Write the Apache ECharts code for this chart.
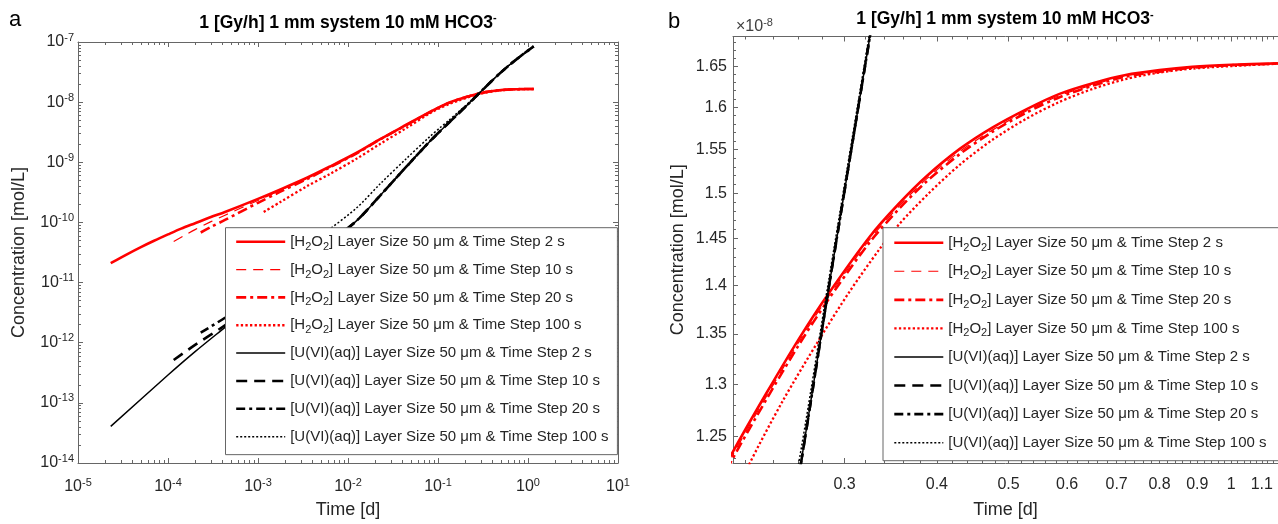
<!DOCTYPE html>
<html><head><meta charset="utf-8">
<script src="https://cdn.jsdelivr.net/npm/echarts@6/dist/echarts.min.js"></script>
<style>html,body{margin:0;padding:0;background:#fff;}#c{width:1278px;height:524px;}</style>
</head><body><div id="c"></div>
<script>
// ---------------- data (time in days, concentration in mol/L) ----------------
const tH2O2_2s = [2.31e-5, 3.5e-5, 5e-5, 7e-5, 1e-4, 1.4e-4, 2e-4, 3e-4, 4.3e-4, 1e-3, 1.75e-3, 3.5e-3, 6.3e-3, 0.0125, 0.0225, 0.045, 0.0815, 0.105, 0.13, 0.17, 0.212, 0.2351, 0.2608, 0.2846, 0.3245, 0.355, 0.387, 0.43, 0.476, 0.53, 0.586, 0.65, 0.72, 0.8, 0.886, 1.0, 1.157];
const cH2O2_2s = [2.10e-11, 2.95e-11, 3.89e-11, 4.96e-11, 6.32e-11, 7.89e-11, 9.71e-11, 1.228e-10, 1.49e-10, 2.46e-10, 3.5e-10, 5.53e-10, 8.5e-10, 1.44e-9, 2.4e-9, 4.25e-9, 6.9e-9, 8.36e-9, 9.7e-9, 1.12e-8, 1.236e-8, 1.291e-8, 1.346e-8, 1.390e-8, 1.452e-8, 1.488e-8, 1.519e-8, 1.551e-8, 1.576e-8, 1.598e-8, 1.616e-8, 1.629e-8, 1.639e-8, 1.645e-8, 1.649e-8, 1.6516e-8, 1.6535e-8];

const tH2O2_10s = [1.157e-4, 1.5e-4, 2e-4, 3e-4, 4.3e-4, 1e-3, 1.75e-3, 3.5e-3, 6.3e-3, 0.0125, 0.0225, 0.045, 0.0815, 0.105, 0.13, 0.17, 0.212, 0.2351, 0.2608, 0.2846, 0.3245, 0.355, 0.387, 0.43, 0.476, 0.53, 0.586, 0.65, 0.72, 0.8, 0.886, 1.0, 1.157];
const cH2O2_10s = [4.8e-11, 6.0e-11, 7.6e-11, 1.03e-10, 1.32e-10, 2.32e-10, 3.40e-10, 5.44e-10, 8.42e-10, 1.43e-9, 2.39e-9, 4.23e-9, 6.87e-9, 8.33e-9, 9.67e-9, 1.117e-8, 1.233e-8, 1.288e-8, 1.343e-8, 1.387e-8, 1.449e-8, 1.485e-8, 1.516e-8, 1.548e-8, 1.573e-8, 1.596e-8, 1.614e-8, 1.627e-8, 1.638e-8, 1.644e-8, 1.648e-8, 1.651e-8, 1.653e-8];

const tH2O2_20s = [2.31e-4, 3e-4, 4.3e-4, 1e-3, 1.75e-3, 3.5e-3, 6.3e-3, 0.0125, 0.0225, 0.045, 0.0815, 0.105, 0.13, 0.17, 0.212, 0.2351, 0.2608, 0.2846, 0.3245, 0.355, 0.387, 0.43, 0.476, 0.53, 0.586, 0.65, 0.72, 0.8, 0.886, 1.0, 1.157];
const cH2O2_20s = [6.8e-11, 8.4e-11, 1.10e-10, 2.12e-10, 3.22e-10, 5.27e-10, 8.25e-10, 1.41e-9, 2.37e-9, 4.2e-9, 6.84e-9, 8.3e-9, 9.63e-9, 1.113e-8, 1.230e-8, 1.285e-8, 1.340e-8, 1.384e-8, 1.446e-8, 1.482e-8, 1.513e-8, 1.545e-8, 1.571e-8, 1.594e-8, 1.612e-8, 1.626e-8, 1.637e-8, 1.643e-8, 1.648e-8, 1.651e-8, 1.653e-8];

const tH2O2_100s = [1.157e-3, 1.75e-3, 3.5e-3, 6.3e-3, 0.0125, 0.0225, 0.045, 0.0815, 0.105, 0.13, 0.17, 0.2214, 0.2476, 0.2787, 0.3045, 0.3342, 0.356, 0.39, 0.429, 0.475, 0.528, 0.585, 0.6495, 0.72, 0.799, 0.89, 1.0, 1.157];
const cH2O2_100s = [1.49e-10, 2.16e-10, 4.0e-10, 6.4e-10, 1.15e-9, 2.0e-9, 3.75e-9, 6.55e-9, 7.95e-9, 9.2e-9, 1.065e-8, 1.220e-8, 1.284e-8, 1.347e-8, 1.393e-8, 1.438e-8, 1.466e-8, 1.500e-8, 1.532e-8, 1.561e-8, 1.586e-8, 1.606e-8, 1.622e-8, 1.634e-8, 1.642e-8, 1.647e-8, 1.650e-8, 1.653e-8];

const tU_2s = [2.31e-5, 1e-4, 2e-4, 4.3e-4, 1e-3, 1.75e-3, 3.5e-3, 6.3e-3, 0.0125, 0.0225, 0.045, 0.0815, 0.13, 0.17, 0.212, 0.2351, 0.2619, 0.2846, 0.3245, 0.387, 0.476, 0.586, 0.72, 0.886, 1.0, 1.157];
const cU_2s = [4.07e-14, 2.9e-13, 7.1e-13, 1.8e-12, 5.0e-12, 9.8e-12, 2.25e-11, 4.69e-11, 1.07e-10, 2.74e-10, 8.6e-10, 2.24e-9, 4.45e-9, 6.55e-9, 9.0e-9, 1.05e-8, 1.2249e-8, 1.390e-8, 1.6855e-8, 2.18e-8, 2.92e-8, 3.85e-8, 4.95e-8, 6.3e-8, 7.2e-8, 8.45e-8];

const tU_10s = [1.157e-4, 2e-4, 4.3e-4, 1e-3, 1.75e-3, 3.5e-3, 6.3e-3, 0.0125, 0.0225, 0.045, 0.0815, 0.13, 0.17, 0.212, 0.2351, 0.2619, 0.2846, 0.3245, 0.387, 0.476, 0.586, 0.72, 0.886, 1.0, 1.157];
const cU_10s = [5.15e-13, 9.2e-13, 1.95e-12, 5.15e-12, 1.0e-11, 2.28e-11, 4.72e-11, 1.07e-10, 2.74e-10, 8.6e-10, 2.24e-9, 4.45e-9, 6.55e-9, 9.0e-9, 1.05e-8, 1.2249e-8, 1.390e-8, 1.6855e-8, 2.18e-8, 2.92e-8, 3.85e-8, 4.95e-8, 6.3e-8, 7.2e-8, 8.45e-8];

const tU_20s = [2.31e-4, 4.3e-4, 1e-3, 1.75e-3, 3.5e-3, 6.3e-3, 0.0125, 0.0225, 0.045, 0.0815, 0.13, 0.17, 0.212, 0.2351, 0.2619, 0.2846, 0.3245, 0.387, 0.476, 0.586, 0.72, 0.886, 1.0, 1.157];
const cU_20s = [1.47e-12, 2.6e-12, 6.0e-12, 1.08e-11, 2.35e-11, 4.75e-11, 1.07e-10, 2.74e-10, 8.6e-10, 2.24e-9, 4.45e-9, 6.55e-9, 9.0e-9, 1.05e-8, 1.2249e-8, 1.390e-8, 1.6855e-8, 2.18e-8, 2.92e-8, 3.85e-8, 4.95e-8, 6.3e-8, 7.2e-8, 8.45e-8];

const tU_100s = [1.157e-3, 1.75e-3, 3.5e-3, 6.3e-3, 0.0125, 0.0225, 0.045, 0.0815, 0.105, 0.13, 0.17, 0.212, 0.2351, 0.2619, 0.2846, 0.3245, 0.387, 0.476, 0.586, 0.72, 0.886, 1.0, 1.157];
const cU_100s = [1.6e-11, 2.2e-11, 4.2e-11, 7.8e-11, 1.75e-10, 4.3e-10, 1.17e-9, 2.69e-9, 3.74e-9, 4.9e-9, 6.94e-9, 9.32e-9, 1.071e-8, 1.237e-8, 1.398e-8, 1.692e-8, 2.185e-8, 2.925e-8, 3.855e-8, 4.955e-8, 6.305e-8, 7.205e-8, 8.455e-8];

const seriesNames = [
  '[H2O2] Layer Size 50 μm & Time Step 2 s',
  '[H2O2] Layer Size 50 μm & Time Step 10 s',
  '[H2O2] Layer Size 50 μm & Time Step 20 s',
  '[H2O2] Layer Size 50 μm & Time Step 100 s',
  '[U(VI)(aq)] Layer Size 50 μm & Time Step 2 s',
  '[U(VI)(aq)] Layer Size 50 μm & Time Step 10 s',
  '[U(VI)(aq)] Layer Size 50 μm & Time Step 20 s',
  '[U(VI)(aq)] Layer Size 50 μm & Time Step 100 s'
];

// tick labels
const xTicksA = [1e-5, 1e-4, 1e-3, 1e-2, 1e-1, 1, 10];
const yTicksA = [1e-14, 1e-13, 1e-12, 1e-11, 1e-10, 1e-9, 1e-8, 1e-7];
const xTicksB = [0.3, 0.4, 0.5, 0.6, 0.7, 0.8, 0.9, 1, 1.1];
const yTicksB = [1.25e-8, 1.3e-8, 1.35e-8, 1.4e-8, 1.45e-8, 1.5e-8, 1.55e-8, 1.6e-8, 1.65e-8];
const titleText = '1 [Gy/h] 1 mm system 10 mM HCO3{sup|-}';

// ---------------- styling ----------------
const FONT = 'Liberation Sans, Arial, Helvetica, sans-serif';
const TXT = '#262626';
const AX = '#666666';
const seriesStyles = [
  {color: '#ff0000', width: 2.6, type: 'solid'},
  {color: '#ff0000', width: 1.2, type: [10, 7]},
  {color: '#ff0000', width: 2.6, type: [10, 4, 3, 4]},
  {color: '#ff0000', width: 2.3, type: [2.3, 2.3]},
  {color: '#000000', width: 1.5, type: 'solid'},
  {color: '#000000', width: 2.6, type: [11, 7]},
  {color: '#000000', width: 2.6, type: [9, 4, 3, 4]},
  {color: '#000000', width: 1.5, type: [2, 2]}
];
const seriesData = [
  [tH2O2_2s, cH2O2_2s], [tH2O2_10s, cH2O2_10s], [tH2O2_20s, cH2O2_20s], [tH2O2_100s, cH2O2_100s],
  [tU_2s, cU_2s], [tU_10s, cU_10s], [tU_20s, cU_20s], [tU_100s, cU_100s]
];
function pairs(t, c) { return t.map((x, i) => [x, c[i]]); }

// minor tick positions (log style 2..9 x 10^n, and linear minor steps on panel b)
const xMinorA = [], yMinorA = [], xMinorB = [], yMinorB = [];
for (let e = -5; e <= 0; e++) for (let k = 2; k <= 9; k++) xMinorA.push(+(k * Math.pow(10, e)).toPrecision(6));
for (let e = -14; e <= -8; e++) for (let k = 2; k <= 9; k++) yMinorA.push(+(k * Math.pow(10, e)).toPrecision(6));
for (let i = 22; i <= 114; i += 2) if (i % 10 !== 0) xMinorB.push(i / 100);
for (let i = 123; i <= 168; i++) if (i % 5 !== 0) yMinorB.push(+(i * 1e-10).toPrecision(6));

const supRich = {
  base: {fontSize: 16, fontFamily: FONT, color: TXT},
  sup: {fontSize: 11, fontFamily: FONT, color: TXT, padding: [0, 0, 9, 0]}
};
function powLabel(v) { const e = Math.round(Math.log10(v)); return '{base|10}{sup|' + e + '}'; }

const lineSt = {color: AX, width: 1};
function axis(kind, opt) {
  const base = {
    type: 'log', logBase: 10, gridIndex: opt.grid, position: opt.pos,
    min: opt.min, max: opt.max, splitLine: {show: false}, minorTick: {show: false},
    axisLine: {show: kind === 'major', onZero: false, lineStyle: lineSt},
    axisTick: {show: true, inside: true, length: kind === 'major' ? 5 : 3, lineStyle: lineSt, customValues: opt.ticks},
    axisLabel: {show: false},
    silent: true
  };
  if (opt.labels) {
    base.axisLabel = Object.assign({show: true, customValues: opt.labels, color: TXT, fontFamily: FONT, fontSize: 16}, opt.labelOpt);
  }
  if (opt.name) Object.assign(base, opt.name);
  return base;
}

const xAxes = [
  axis('major', {grid: 0, pos: 'bottom', min: 0.99999e-5, max: 10.0001, ticks: xTicksA, labels: xTicksA,
    labelOpt: {formatter: powLabel, margin: 14, rich: supRich},
    name: {name: 'Time [d]', nameLocation: 'middle', nameGap: 38, nameTextStyle: {fontSize: 18, color: TXT, fontFamily: FONT}}}),
  axis('minor', {grid: 0, pos: 'bottom', min: 0.99999e-5, max: 10.0001, ticks: xMinorA}),
  axis('major', {grid: 0, pos: 'top', min: 0.99999e-5, max: 10.0001, ticks: xTicksA}),
  axis('minor', {grid: 0, pos: 'top', min: 0.99999e-5, max: 10.0001, ticks: xMinorA}),
  axis('major', {grid: 1, pos: 'bottom', min: 0.212, max: 1.157, ticks: xTicksB, labels: xTicksB,
    labelOpt: {formatter: v => String(+v.toFixed(2)), margin: 14},
    name: {name: 'Time [d]', nameLocation: 'middle', nameGap: 38, nameTextStyle: {fontSize: 18, color: TXT, fontFamily: FONT}}}),
  axis('minor', {grid: 1, pos: 'bottom', min: 0.212, max: 1.157, ticks: xMinorB}),
  axis('major', {grid: 1, pos: 'top', min: 0.212, max: 1.157, ticks: xTicksB}),
  axis('minor', {grid: 1, pos: 'top', min: 0.212, max: 1.157, ticks: xMinorB})
];
const yAxes = [
  axis('major', {grid: 0, pos: 'left', min: 0.9999e-14, max: 1.0001e-7, ticks: yTicksA, labels: yTicksA,
    labelOpt: {formatter: powLabel, margin: 4, rich: supRich},
    name: {name: 'Concentration [mol/L]', nameLocation: 'middle', nameGap: 50, nameTextStyle: {fontSize: 18, color: TXT, fontFamily: FONT}}}),
  axis('minor', {grid: 0, pos: 'left', min: 0.9999e-14, max: 1.0001e-7, ticks: yMinorA}),
  axis('major', {grid: 0, pos: 'right', min: 0.9999e-14, max: 1.0001e-7, ticks: yTicksA}),
  axis('minor', {grid: 0, pos: 'right', min: 0.9999e-14, max: 1.0001e-7, ticks: yMinorA}),
  axis('major', {grid: 1, pos: 'left', min: 1.2255e-8, max: 1.687e-8, ticks: yTicksB, labels: yTicksB,
    labelOpt: {formatter: v => String(+(v * 1e8).toFixed(2)), margin: 6},
    name: {name: 'Concentration [mol/L]', nameLocation: 'middle', nameGap: 46, nameTextStyle: {fontSize: 18, color: TXT, fontFamily: FONT}}}),
  axis('minor', {grid: 1, pos: 'left', min: 1.2255e-8, max: 1.687e-8, ticks: yMinorB})
];

const series = [];
[0, 1].forEach(panel => {
  seriesData.forEach((d, i) => {
    const st = seriesStyles[i];
    series.push({
      type: 'line', name: seriesNames[i],
      xAxisIndex: panel === 0 ? 0 : 4, yAxisIndex: panel === 0 ? 0 : 4,
      data: pairs(d[0], d[1]),
      symbol: 'none', showSymbol: false, smooth: 0.3,
      clip: true, silent: true,
      color: st.color,
      lineStyle: {color: st.color, width: st.width, type: st.type, cap: 'butt', join: 'round'},
      emphasis: {disabled: true}
    });
  });
});

function legend(opt) {
  return Object.assign({
    orient: 'vertical', selectedMode: false, data: seriesNames,
    itemWidth: 49, itemHeight: 22, backgroundColor: '#ffffff',
    borderColor: AX, borderWidth: 1, borderRadius: 0,
    itemStyle: {opacity: 0, borderWidth: 0},
    lineStyle: {width: 'inherit'},
    formatter: n => n.replace('H2O2', 'H{sub|2}O{sub|2}'),
    textStyle: {fontSize: 15, fontFamily: FONT, color: TXT, lineHeight: 22,
      rich: {sub: {fontSize: 11, fontFamily: FONT, color: TXT, padding: [10, 0, 0, 0]}}}
  }, opt);
}

const option = {
  animation: false,
  backgroundColor: '#ffffff',
  textStyle: {fontFamily: FONT},
  grid: [
    {left: 78, top: 42, width: 540, height: 423, containLabel: false},
    {left: 733, top: 36.5, width: 546, height: 432.5, containLabel: false}
  ],
  xAxis: xAxes,
  yAxis: yAxes,
  legend: [
    legend({left: 225.5, top: 227.7, padding: [3, 9, 7, 9.4], itemGap: 5.85}),
    legend({left: 883, top: 227.7, padding: [4, 20, 7, 10], itemGap: 6.57})
  ],
  graphic: [
    {type: 'text', silent: true, style: {x: 15, y: 20, text: 'a', font: '22px ' + FONT, fill: '#000', align: 'center', verticalAlign: 'middle'}},
    {type: 'text', silent: true, style: {x: 674, y: 22, text: 'b', font: '22px ' + FONT, fill: '#000', align: 'center', verticalAlign: 'middle'}},
    {type: 'text', silent: true, style: {x: 348, y: 23, text: titleText, align: 'center', verticalAlign: 'middle',
      fontSize: 17.5, fontWeight: 'bold', fontFamily: FONT, fill: '#000',
      rich: {sup: {fontSize: 11, fontWeight: 'bold', fontFamily: FONT, fill: '#000', padding: [0, 0, 10, 0]}}}},
    {type: 'text', silent: true, style: {x: 1005, y: 19.5, text: titleText, align: 'center', verticalAlign: 'middle',
      fontSize: 17.5, fontWeight: 'bold', fontFamily: FONT, fill: '#000',
      rich: {sup: {fontSize: 11, fontWeight: 'bold', fontFamily: FONT, fill: '#000', padding: [0, 0, 10, 0]}}}},
    {type: 'text', silent: true, style: {x: 736, y: 27, text: '×10{sup|-8}', align: 'left', verticalAlign: 'middle',
      fontSize: 16, fontFamily: FONT, fill: '#404040',
      rich: {sup: {fontSize: 11, fontFamily: FONT, fill: '#404040', padding: [0, 0, 9, 0]}}}}
  ],
  series: series
};
const chart = echarts.init(document.getElementById('c'), null, {renderer: 'canvas', width: 1278, height: 524});
chart.setOption(option);
</script>
</body></html>
